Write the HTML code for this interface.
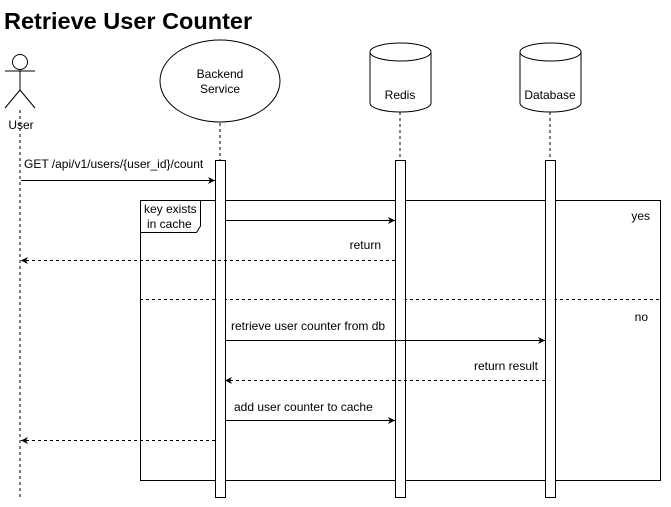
<!DOCTYPE html>
<html><head><meta charset="utf-8"><style>
body{margin:0;background:#fff;width:671px;height:502px;overflow:hidden}
svg text{font-family:"Liberation Sans",Arial,sans-serif;font-size:12px;fill:#000}
</style></head><body>
<svg width="671" height="502" viewBox="0 0 671 502" xmlns="http://www.w3.org/2000/svg">
<defs><marker id="a" markerWidth="8" markerHeight="8" refX="7" refY="4" orient="auto" markerUnits="userSpaceOnUse"><path d="M0,0.5 L7,4 L0,7.5 L2,4 Z" fill="#000"/></marker></defs>
<text x="4" y="29" style="font-size:23.5px;font-weight:bold">Retrieve User Counter</text>
<g stroke="#000" fill="none" stroke-width="1">
<circle cx="20" cy="62" r="7.5" fill="#fff"/>
<line x1="20" y1="70" x2="20" y2="90"/>
<line x1="5" y1="71" x2="35" y2="71"/>
<line x1="20" y1="90" x2="5" y2="108"/>
<line x1="20" y1="90" x2="35" y2="108"/>
<line x1="20" y1="110" x2="20" y2="497" stroke-dasharray="3,3"/>
<line x1="220" y1="123" x2="220" y2="160" stroke-dasharray="3,3"/>
<line x1="400" y1="112" x2="400" y2="160" stroke-dasharray="3,3"/>
<line x1="550" y1="112" x2="550" y2="160" stroke-dasharray="3,3"/>
<ellipse cx="220" cy="81" rx="60" ry="41" fill="#fff"/>
<path d="M370,52 A30.5,9 0 0 1 431,52 L431,103 A30.5,9 0 0 1 370,103 Z" fill="#fff"/>
<path d="M370,52 A30.5,9 0 0 0 431,52"/>
<path d="M520,52 A30.5,9 0 0 1 581,52 L581,103 A30.5,9 0 0 1 520,103 Z" fill="#fff"/>
<path d="M520,52 A30.5,9 0 0 0 581,52"/>
<rect x="140.5" y="200.5" width="520" height="280"/>
<path d="M140.5,232.5 L196.5,232.5 L200.5,226 L200.5,200.5"/>
<line x1="140" y1="299.5" x2="661" y2="299.5" stroke-dasharray="3,3"/>
<rect x="215.5" y="160.5" width="10" height="337" fill="#fff"/>
<rect x="395.5" y="160.5" width="10" height="337" fill="#fff"/>
<rect x="545.5" y="160.5" width="10" height="337" fill="#fff"/>
<line x1="21" y1="180.5" x2="215" y2="180.5" marker-end="url(#a)"/>
<line x1="225" y1="220.5" x2="395" y2="220.5" marker-end="url(#a)"/>
<line x1="395" y1="260.5" x2="21" y2="260.5" stroke-dasharray="3,3" marker-end="url(#a)"/>
<line x1="225" y1="340.5" x2="545" y2="340.5" marker-end="url(#a)"/>
<line x1="545" y1="380.5" x2="225" y2="380.5" stroke-dasharray="3,3" marker-end="url(#a)"/>
<line x1="225" y1="420.5" x2="395" y2="420.5" marker-end="url(#a)"/>
<line x1="215" y1="440.5" x2="21" y2="440.5" stroke-dasharray="3,3" marker-end="url(#a)"/>
</g>
<text x="220" y="78" text-anchor="middle">Backend</text>
<text x="220" y="93" text-anchor="middle">Service</text>
<text x="400" y="99" text-anchor="middle">Redis</text>
<text x="550" y="99" text-anchor="middle">Database</text>
<text x="21" y="129" text-anchor="middle">User</text>
<text x="24" y="168">GET /api/v1/users/{user_id}/count</text>
<text x="144" y="213">key exists</text>
<text x="147" y="228">in cache</text>
<text x="650" y="220" text-anchor="end">yes</text>
<text x="381" y="249" text-anchor="end">return</text>
<text x="648" y="321" text-anchor="end">no</text>
<text x="231" y="330">retrieve user counter from db</text>
<text x="538" y="370" text-anchor="end">return result</text>
<text x="234" y="411">add user counter to cache</text>
</svg>
</body></html>
